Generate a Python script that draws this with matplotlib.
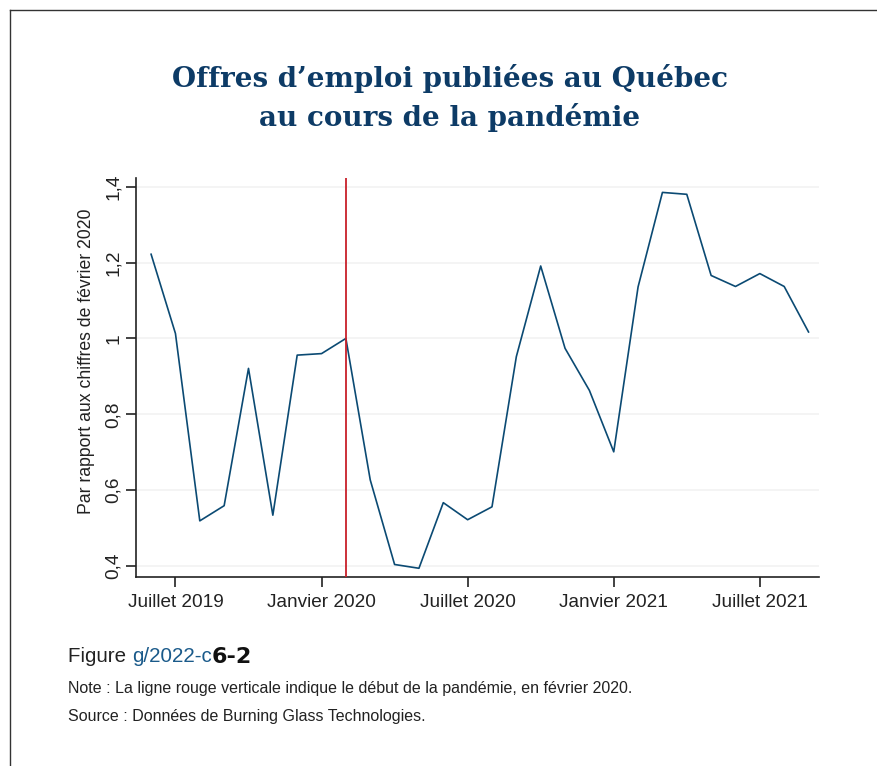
import matplotlib
matplotlib.use("Agg")
import matplotlib.pyplot as plt
from matplotlib.lines import Line2D
from matplotlib.ticker import FixedLocator, FixedFormatter

# ---- data ----
months = ["2019-06", "2019-07", "2019-08", "2019-09", "2019-10", "2019-11", "2019-12",
          "2020-01", "2020-02", "2020-03", "2020-04", "2020-05", "2020-06", "2020-07",
          "2020-08", "2020-09", "2020-10", "2020-11", "2020-12", "2021-01", "2021-02",
          "2021-03", "2021-04", "2021-05", "2021-06", "2021-07", "2021-08", "2021-09"]
values = [1.222, 1.013, 0.519, 0.559, 0.921, 0.534, 0.956,
          0.960, 1.000, 0.627, 0.404, 0.394, 0.567, 0.522,
          0.556, 0.952, 1.191, 0.974, 0.863, 0.701, 1.136,
          1.385, 1.380, 1.166, 1.137, 1.171, 1.137, 1.017]
xtick_months = ["2019-07", "2020-01", "2020-07", "2021-01", "2021-07"]
xtick_labels = ["Juillet 2019", "Janvier 2020", "Juillet 2020", "Janvier 2021", "Juillet 2021"]
ytick_values = [0.4, 0.6, 0.8, 1.0, 1.2, 1.4]
ytick_labels = ["0,4", "0,6", "0,8", "1", "1,2", "1,4"]
pandemic_month = "2020-02"

title = "Offres d\u2019emploi publiées au Québec\nau cours de la pandémie"
ylabel = "Par rapport aux chiffres de février 2020"
note = "Note : La ligne rouge verticale indique le début de la pandémie, en février 2020."
source = "Source : Données de Burning Glass Technologies."

plt.rcParams['font.family'] = ['Liberation Sans', 'DejaVu Sans']

W, H = 878, 766
fig = plt.figure(figsize=(W / 100, H / 100), dpi=100)
fig.patch.set_facecolor("white")

# frame lines (left and top)
fig.add_artist(Line2D([10 / W, 10 / W], [0, 1 - 10 / H], transform=fig.transFigure, color="#333333", lw=1.0))
fig.add_artist(Line2D([10 / W, 1], [1 - 10 / H, 1 - 10 / H], transform=fig.transFigure, color="#333333", lw=1.0))

ax = fig.add_axes([136 / W, 1 - 577 / H, (819 - 136) / W, (577 - 178) / H])
xs = list(range(len(months)))
idx = {m: i for i, m in enumerate(months)}

ax.set_xlim(-0.62, 27.43)
ax.set_ylim(0.371, 1.423)

for y in ytick_values:
    ax.axhline(y, color="#f2f2f2", lw=1.2, zorder=0)

ax.plot(xs, values, color="#0b4a73", lw=1.2, zorder=3)
ax.axvline(idx[pandemic_month], color="#c8202a", lw=1.3, zorder=4)

ax.xaxis.set_major_locator(FixedLocator([idx[m] for m in xtick_months]))
ax.xaxis.set_major_formatter(FixedFormatter(xtick_labels))
ax.yaxis.set_major_locator(FixedLocator(ytick_values))
ax.yaxis.set_major_formatter(FixedFormatter(ytick_labels))

for s in ["top", "right"]:
    ax.spines[s].set_visible(False)
for s in ["left", "bottom"]:
    ax.spines[s].set_color("#222222")
    ax.spines[s].set_linewidth(1.2)

ax.tick_params(axis="x", length=7, width=1.2, color="#222222", labelsize=13.7, labelcolor="#222222", pad=5)
ax.tick_params(axis="y", length=7, width=1.2, color="#222222", labelsize=13.7, labelcolor="#222222", pad=3)
for lab in ax.get_yticklabels():
    lab.set_rotation(90)
    lab.set_va("center")
ax.set_ylabel(ylabel, fontsize=12.7, color="#222222")
ax.yaxis.set_label_coords(-0.073, 0.541)
ax.yaxis.label.set_va("center")

fig.text(450 / W, 1 - 98 / H, title, ha="center", va="center", fontsize=20, fontweight="bold",
         family="DejaVu Serif", color="#0d3b66", linespacing=1.45)

# caption with mixed styles
fig.canvas.draw()
r = fig.canvas.get_renderer()
x0 = 68
ycap = 1 - 657 / H
parts = [("Figure ", "#222222", "normal", 14.8), ("g/2022-c", "#1a5a8a", "normal", 14.8),
         ("6-2", "#111111", "heavy", 16)]
for txt, col, wt, fs in parts:
    fam = ['Liberation Sans'] if wt == "normal" else ['DejaVu Sans']
    t = fig.text(x0 / W, ycap, txt, ha="left", va="center", fontsize=fs, color=col,
                 fontweight="bold" if wt != "normal" else "normal", family=fam)
    bb = t.get_window_extent(renderer=r)
    x0 += bb.width

fig.text(68 / W, 1 - 689 / H, note, ha="left", va="center", fontsize=11.5, color="#222222")
fig.text(68 / W, 1 - 717 / H, source, ha="left", va="center", fontsize=11.5, color="#222222")

fig.savefig("out.png", dpi=100, facecolor="white")
